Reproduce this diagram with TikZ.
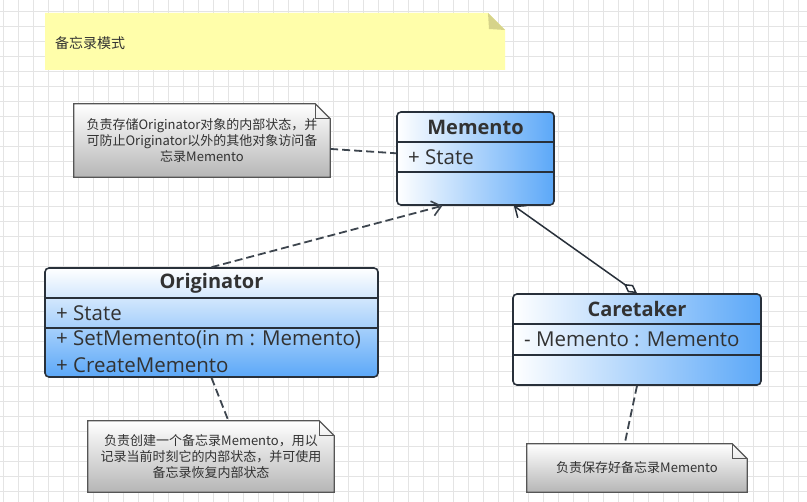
\documentclass[tikz,border=0pt]{standalone}
\usepackage{fontspec}
\setmainfont{Open Sans}
\newfontfamily\cjk{Noto Sans CJK SC}
\usepackage{xcolor}
\usetikzlibrary{arrows.meta, positioning}

\definecolor{umlblue}{RGB}{92,168,248}
\definecolor{umlline}{RGB}{40,48,58}
\definecolor{textgray}{RGB}{50,50,50}
\definecolor{gridgray}{RGB}{228,228,228}
\definecolor{notegray}{RGB}{182,182,182}
\definecolor{noteline}{RGB}{85,85,85}
\definecolor{memoyellow}{RGB}{255,254,170}
\definecolor{memofold}{RGB}{214,211,138}

\pgfdeclarelayer{bg}
\pgfsetlayers{bg,main}

\begin{document}
\begin{tikzpicture}[x=1pt, y=-1pt,
    classbox/.style={draw=umlline, line width=1.6pt, rounded corners=4pt, inner sep=0pt},
    classname/.style={font=\fontsize{20}{24}\selectfont\bfseries, text=textgray, inner sep=0pt},
    member/.style={font=\fontsize{20.5}{24}\selectfont, text=textgray, anchor=west, inner sep=0pt},
    notebox/.style={inner sep=0pt, align=center, text=textgray,
        font=\cjk\fontsize{13}{16}\selectfont},
    notefill/.style={top color=white, bottom color=notegray, draw=noteline, line width=1.2pt},
    dashline/.style={dashed, dash pattern=on 8pt off 4pt, line width=1.8pt, draw=umlline!90},
    gridline/.style={draw=gridgray, line width=0.8pt}]

    \useasboundingbox (0,0) rectangle (807,502);

    % raster
    \begin{pgfonlayer}{bg}
    \fill[white] (0,0) rectangle (807,502);
    \foreach \gx in {3.3,18.3,...,807} \draw[gridline] (\gx,0) -- (\gx,502);
    \foreach \gy in {11.7,26.7,...,502} \draw[gridline] (0,\gy) -- (807,\gy);
    \end{pgfonlayer}

    % titolo
    \fill[memoyellow] (45,13) -- (488,13) -- (505,30) -- (505,70) -- (45,70) -- cycle;
    \fill[memofold] (488,13) -- (505,30) -- (489,29) -- cycle;
    \node[anchor=west, inner sep=0pt, text=textgray, font=\cjk\fontsize{14}{16}\selectfont]
        (title) at (55,43) {备忘录模式};

    % classi
    \node[classbox, left color=white, right color=umlblue, minimum width=157pt, minimum height=93pt]
        (memento) at (475.5,158.5) {};
    \draw[umlline, line width=1.6pt] (397,142) -- (554,142) (397,172) -- (554,172);
    \node[classname] (memento-name) at (475.5,127) {Memento};
    \node[member] (memento-state) at (408,157) {+ State};

    \node[classbox, top color=white, bottom color=umlblue, minimum width=333pt, minimum height=109pt]
        (originator) at (211.5,322.5) {};
    \draw[umlline, line width=1.6pt] (45,298) -- (378,298) (45,328) -- (378,328);
    \node[classname] (originator-name) at (211.5,283) {Originator};
    \node[member] (originator-state) at (56,313) {+ State};
    \node[member] (originator-set) at (56,340) {+ SetMemento(in m : Memento)};
    \node[member] (originator-create) at (56,365) {+ CreateMemento};

    \node[classbox, left color=white, right color=umlblue, minimum width=248pt, minimum height=91pt]
        (caretaker) at (637,339.5) {};
    \draw[umlline, line width=1.6pt] (513,324) -- (761,324) (513,355) -- (761,355);
    \node[classname] (caretaker-name) at (637,309) {Caretaker};
    \node[member] (caretaker-memento) at (524,339) {- Memento : Memento};

    % note
    \node[notebox, minimum width=256pt, minimum height=73pt] (note1) at (202,140.5)
        {负责存储Originator对象的内部状态，并\\可防止Originator以外的其他对象访问备\\忘录Memento};
    \node[notebox, minimum width=246pt, minimum height=71pt] (note2) at (211,456.5)
        {负责创建一个备忘录Memento，用以\\记录当前时刻它的内部状态，并可使用\\备忘录恢复内部状态};
    \node[notebox, minimum width=220pt, minimum height=48pt] (note3) at (637,468)
        {负责保存好备忘录Memento};

    \begin{pgfonlayer}{bg}
    \foreach \n in {note1,note2,note3} {
        \shade[notefill] (\n.north west) -- ([xshift=-15pt]\n.north east)
            -- ([yshift=-15pt]\n.north east) -- (\n.south east) -- (\n.south west) -- cycle;
        \draw[noteline, line width=1pt] ([xshift=-15pt]\n.north east) |- ([yshift=-15pt]\n.north east);
    }
    \end{pgfonlayer}

    % collegamenti
    \draw[dashline] (note1) -- (memento);
    \draw[dashline, -{Straight Barb[length=9pt, width=15pt, line width=1.6pt]}]
        (originator.north) -- (memento.235);
    \draw[umlline, line width=1.5pt,
        {Diamond[open, length=16pt, width=9pt, fill=white]}-{Straight Barb[length=9pt, width=15pt]}]
        (caretaker.north) -- (memento.309);
    \draw[dashline] (originator.south) -- (note2.64);
    \draw[dashline] (caretaker.south) -- (note3.117);
\end{tikzpicture}
\end{document}
